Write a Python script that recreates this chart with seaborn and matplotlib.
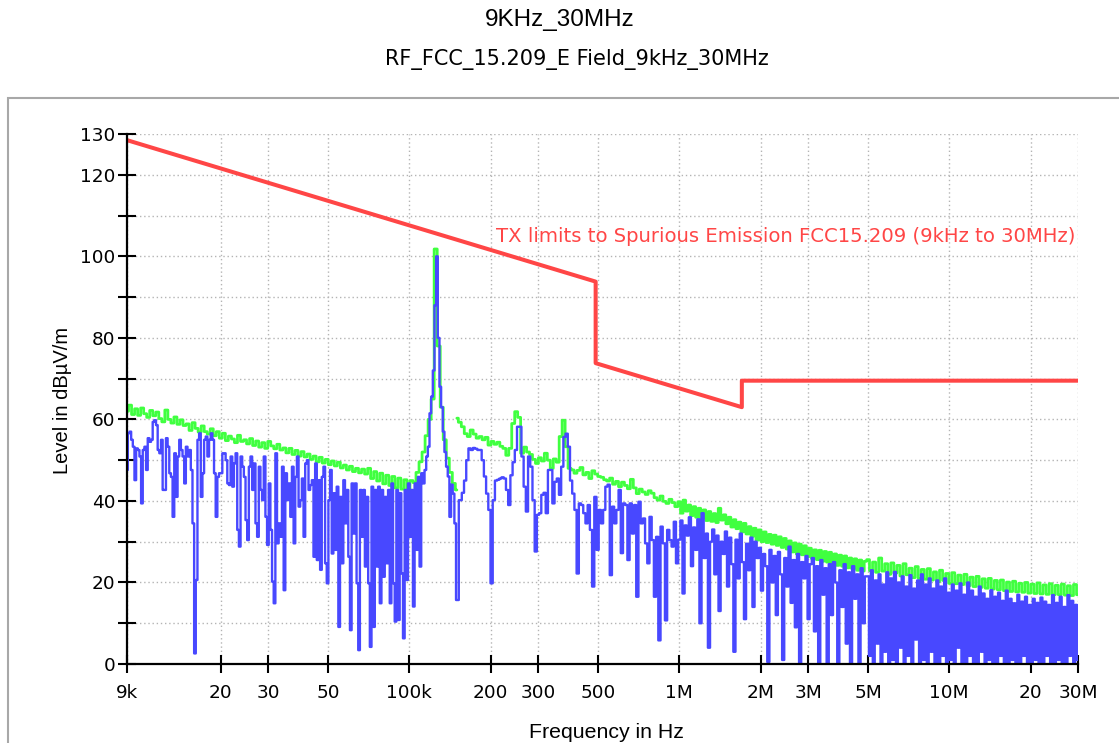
import numpy as np
import pandas as pd
import seaborn as sns
import matplotlib.pyplot as plt
from matplotlib.patches import Rectangle
from matplotlib.ticker import NullLocator

# FCC 15.209 limit, converted to 3 m (dBuV/m)
limit_freq = [9e3, 490e3, 490e3, 1.705e6, 1.705e6, 30e6]
limit_level = [128.5, 93.8, 73.8, 63.0, 69.5, 69.5]

# green trace
green_9k_150k = [
    62.0, 63.5, 61.2, 62.6, 61.0, 62.8, 61.4, 60.5, 62.2, 60.9,
    61.8, 60.2, 59.4, 62.3, 60.0, 59.1, 60.6, 58.8, 59.9, 58.5,
    58.9, 57.3, 59.2, 57.8, 56.9, 58.4, 57.0, 56.4, 57.7, 56.0,
    57.0, 55.4, 56.6, 54.8, 55.9, 55.2, 54.3, 56.1, 54.6, 55.0,
    54.0, 55.3, 53.6, 54.7, 53.2, 54.3, 52.9, 54.6, 53.5, 52.8,
    53.9, 52.5, 53.0, 51.8, 52.9, 51.4, 52.4, 51.0, 52.1, 50.8,
    51.5, 50.2, 51.0, 49.6, 50.7, 49.3, 50.2, 48.9, 49.8, 48.6,
    49.5, 48.1, 48.8, 47.6, 48.5, 47.2, 48.0, 46.9, 47.8, 46.6,
    48.0, 45.5, 47.2, 44.9, 46.8, 44.2, 46.3, 43.8, 46.0, 43.2,
    45.6, 42.9, 45.2, 42.6, 45.0,
    44.5, 47.0, 49.6, 52.0, 56.0, 60.0, 65.0, 101.8, 78.0, 63.0,
    55.0, 50.5, 47.0, 44.3, 42.7,
]
green_150k_1m = [
    60.3, 59.3, 58.2, 56.5, 55.8, 57.4, 56.4, 55.4, 55.8, 55.0,
    55.6, 53.7, 54.6, 53.9, 54.4, 53.4, 52.9, 51.2, 52.9, 59.0,
    61.9, 60.5, 51.7, 53.2, 52.0, 51.4, 50.2, 49.2, 50.6, 49.8,
    51.7, 50.0, 48.0, 50.3, 49.5, 55.8, 59.8, 53.3, 48.0, 47.6,
    46.8, 47.5, 48.2, 46.4, 47.0, 45.5, 47.4, 46.6, 46.0, 45.8,
    45.2, 44.9, 45.6, 44.1, 44.8, 43.5, 44.6, 43.8, 43.0, 45.3,
    43.2, 41.8, 42.9, 42.2, 41.6, 42.5, 41.9, 40.8, 40.2, 41.2,
    39.9, 39.4, 40.4, 39.6, 38.6,
]
green_1m_5m = [
    39.8, 37.0, 40.2, 37.5, 39.0, 36.4, 38.6, 36.0, 38.2, 35.8,
    37.8, 35.2, 37.4, 35.0, 36.9, 34.7, 38.2, 35.3, 36.6, 34.4,
    36.0, 33.6, 35.4, 33.2, 34.8, 32.4, 34.5, 31.9, 33.7, 31.3,
    33.3, 30.4, 32.9, 30.0, 32.4, 29.8, 31.8, 29.4, 31.6, 29.1,
    31.2, 28.6, 30.8, 28.2, 30.2, 27.5, 29.7, 27.0, 29.4, 26.8,
    29.0, 26.3, 28.4, 25.9, 28.0, 25.6, 27.9, 25.2, 27.6, 25.0,
    27.4, 24.6, 27.0, 24.2, 26.7, 24.0, 26.5, 23.6, 26.0, 23.4,
    25.8, 23.0, 25.5, 22.8, 25.2,
]
green_5m_30m = [
    25.6, 22.9, 25.0, 22.5, 26.0, 22.8, 24.6, 22.0, 24.8, 22.3,
    24.2, 21.6, 24.6, 21.9, 23.5, 21.2, 23.9, 21.0, 23.2, 20.8,
    23.4, 20.6, 22.6, 20.2, 23.0, 20.5, 22.2, 19.8, 22.4, 19.7,
    21.8, 19.5, 22.0, 19.2, 21.3, 19.0, 21.5, 18.8, 20.9, 18.6,
    21.0, 18.4, 20.5, 18.2, 20.6, 18.0, 20.1, 17.8, 20.3, 17.7,
    19.8, 17.6, 20.0, 17.4, 19.6, 17.3, 19.9, 17.2, 19.4, 17.1,
    19.7, 17.0, 19.3, 17.0, 19.6, 16.9, 19.2, 16.8, 19.5, 17.0,
]

# blue trace
blue_9k_150k = [
    47.6, 56.6, 57.0, 55.0, 53.3, 45.1, 52.9, 52.5, 50.9, 39.4,
    52.5, 53.3, 47.6, 55.4, 54.5, 55.0, 59.4, 59.8, 58.6, 52.5,
    51.7, 55.0, 42.7, 42.7, 55.4, 53.3, 46.8, 45.9, 36.1, 51.7,
    41.0, 50.9, 55.0, 52.5, 50.9, 44.3, 53.3, 50.9, 52.5, 47.6,
    34.5, 2.6, 20.6, 55.0, 56.6, 41.0, 46.8, 55.0, 55.8, 50.9,
    55.0, 56.6, 55.0, 46.8, 36.1, 45.9, 46.8, 46.8, 51.7, 51.7,
    50.0, 44.3, 43.9, 50.9, 43.5, 49.2, 51.7, 32.9, 28.8, 50.9,
    48.4, 45.9, 35.3, 30.4, 48.4, 50.9, 42.7, 49.2, 34.5, 31.2,
    48.4, 42.7, 40.2, 50.9, 36.1, 29.2, 44.3, 32.9, 20.2, 14.9,
    51.7, 29.6, 34.5, 31.2, 48.4, 18.1, 46.8, 40.2, 44.3, 36.1,
    48.4, 29.6, 45.9, 50.9, 38.6,
    40.2, 45.5, 31.2, 49.2, 50.0, 42.7, 43.9, 45.1, 26.3, 49.2,
    25.5, 45.1, 23.1, 45.9, 48.4, 24.7, 19.8, 40.2, 47.6, 27.1,
    41.9, 28.0, 43.5, 9.1, 41.0, 24.7, 45.1, 34.5, 42.7, 26.3,
    8.3, 44.3, 32.0, 44.3, 19.8, 3.4, 42.7, 31.2, 42.7, 23.9,
    41.0, 19.8, 4.2, 43.5, 9.1, 42.7, 23.9, 43.5, 14.9, 42.7,
    21.4, 41.0, 24.7, 42.7, 14.9, 44.3, 19.8, 10.4, 42.7, 10.8,
    41.9, 22.2, 6.3, 42.7, 20.6, 44.3, 31.2, 42.7, 14.1, 44.3,
    28.0, 45.9, 23.9, 46.8, 44.3, 47.6, 50.9, 53.3, 61.5, 65.6,
    72.0, 88.0, 100.0, 80.0, 68.0, 63.0, 57.0, 52.0, 48.4, 46.0,
    36.1, 44.0, 41.8, 34.5, 15.7,
]
blue_155k_1m = [
    40.2, 42.0, 45.0, 50.0, 52.9, 52.5, 53.0, 52.8, 52.5, 52.5,
    50.0, 46.0, 41.8, 37.8, 19.8, 40.2, 45.0, 45.2, 45.5, 45.8,
    45.5, 42.7, 39.0, 46.3, 49.5, 52.5, 58.2, 58.2, 50.9, 43.5,
    37.4, 50.9, 48.4, 40.2, 27.6, 36.6, 37.0, 41.5, 42.0, 37.0,
    47.6, 47.6, 39.4, 44.7, 45.5, 41.5, 48.4, 55.7, 56.5, 53.3,
    45.0, 41.8, 37.8, 22.2, 39.4, 39.0, 37.0, 34.5, 39.0, 32.9,
    19.0, 41.0, 28.0, 37.8, 34.5, 37.8, 43.5, 44.0, 21.8, 38.6,
    34.5, 37.8, 42.7, 27.2, 39.4, 39.0, 25.5, 39.4, 32.0, 39.0,
    16.5, 39.8, 34.5, 35.7, 29.6, 24.7, 36.1, 30.4, 16.5, 31.2,
    5.8, 33.7, 29.6, 10.7, 32.9, 30.4, 28.8, 34.9, 24.7,
]
blue_1m_5m = [
    30.5, 35.2, 17.3, 34.0, 31.5, 36.0, 24.0, 33.5, 28.0, 35.5,
    10.0, 37.0, 26.0, 32.0, 4.0, 30.0,
    33.0, 22.0, 31.5, 13.0, 30.0, 27.0, 32.5, 19.0, 31.0, 24.5,
    3.0, 30.5, 21.0, 32.0, 25.0, 11.0, 29.5, 23.0, 31.0, 14.0,
    30.0, 26.0,
    28.5, 18.0, 27.0, 24.0, 0.5, 28.0, 20.0, 26.5, 12.0, 27.5,
    22.0, 1.0, 26.0, 19.0, 28.8, 15.0, 25.5, 9.0, 27.0, 0.0,
    25.0, 21.0, 26.5, 11.0, 24.5,
    26.0, 8.0, 24.0, 0.0, 25.5, 17.0, 23.5, 0.0, 24.5, 12.0,
    25.0, 20.0, 0.0, 23.0, 14.0, 24.5, 5.0, 22.5, 0.0, 24.0,
    16.0, 22.0, 0.0, 23.5, 10.0, 21.5,
]
blue_5m_30m = [
    21.5, 2.0, 23.0, 0.0, 20.5, 5.0, 22.0, 0.0, 19.5, 3.0, 22.5, 0.0,
    21.0, 1.0, 22.6, 0.0, 20.0, 4.0, 21.5, 0.0, 19.0, 2.0,
    21.8, 0.0, 18.5, 6.0, 20.5, 0.0, 22.0, 1.0, 19.5, 0.0,
    21.0, 3.0, 18.5, 0.0, 20.5, 0.0, 19.0, 2.0, 21.0, 0.0,
    17.5, 1.0, 19.5, 0.0, 18.0, 4.0, 19.8, 0.0, 17.0, 0.0,
    20.0, 2.0, 18.0, 0.0, 16.5, 0.0, 19.0, 3.0, 17.3, 0.0,
    16.0, 1.0, 18.1, 0.0, 16.5, 0.0, 17.5, 2.0, 15.5, 0.0,
    18.0, 0.0, 16.0, 1.0, 14.9, 0.0, 17.0, 0.0, 15.3, 2.0,
    16.5, 0.0, 14.5, 0.0, 16.0, 1.0, 15.0, 0.0, 16.3, 0.0,
    15.3, 2.0, 14.5, 0.0, 16.9, 0.0, 15.0, 1.0, 16.5, 0.0,
    14.0, 0.0, 16.9, 2.0, 15.5, 0.0, 14.5, 1.0,
]

x_ticks = [9e3, 2e4, 3e4, 5e4, 1e5, 2e5, 3e5, 5e5, 1e6, 2e6, 3e6, 5e6, 1e7, 2e7, 3e7]
x_tick_labels = ['9k', '20', '30', '50', '100k', '200', '300', '500',
                 '1M', '2M', '3M', '5M', '10M', '20', '30M']
y_ticks = list(range(0, 131, 10))
y_tick_labels = ['0', '', '20', '', '40', '', '60', '', '80', '', '100', '', '120', '130']

RED = '#ff4646'
GREEN = '#40ff40'
BLUE = '#4848ff'


def band(lo, hi, values, endpoint=True):
    # sweep points spread evenly on the log axis over one band
    return np.geomspace(lo, hi, len(values), endpoint=endpoint)


green_lo = pd.DataFrame({'freq': band(9e3, 150e3, green_9k_150k), 'level': green_9k_150k})
green_hi = pd.DataFrame({
    'freq': np.concatenate([band(150e3, 1e6, green_150k_1m, False),
                            band(1e6, 5e6, green_1m_5m, False),
                            band(5e6, 30e6, green_5m_30m)]),
    'level': green_150k_1m + green_1m_5m + green_5m_30m,
})
blue = pd.DataFrame({
    'freq': np.concatenate([band(9e3, 150e3, blue_9k_150k),
                            band(155e3, 1e6, blue_155k_1m, False),
                            band(1e6, 5e6, blue_1m_5m, False),
                            band(5e6, 30e6, blue_5m_30m)]),
    'level': blue_9k_150k + blue_155k_1m + blue_1m_5m + blue_5m_30m,
})
limit = pd.DataFrame({'freq': limit_freq, 'level': limit_level})

sns.set_theme(style='white')
plt.rcParams['font.family'] = ['DejaVu Sans']
plt.rcParams['path.simplify'] = False

fig = plt.figure(figsize=(11.19, 7.43), dpi=100)
ax = fig.add_axes([0.1135, 0.1063, 0.8499, 0.7133])
ax.set_xscale('log')

kw = dict(x='freq', y='level', estimator=None, sort=False, ax=ax, legend=False)
trace = dict(drawstyle='steps-mid', snap=False)
sns.lineplot(data=green_lo, color=GREEN, lw=2.0, **trace, **kw)
sns.lineplot(data=green_hi, color=GREEN, lw=2.0, **trace, **kw)
sns.lineplot(data=blue, color=BLUE, lw=1.7, **trace, **kw)
sns.lineplot(data=limit, color=RED, lw=2.9, **kw)

ax.set_xlim(9e3, 30e6)
ax.set_ylim(0, 130)
ax.xaxis.set_minor_locator(NullLocator())
ax.set_xticks(x_ticks)
ax.set_xticklabels(x_tick_labels)
ax.set_yticks(y_ticks)
ax.set_yticklabels(y_tick_labels)
ax.tick_params(axis='both', direction='inout', length=13, width=1.5,
               color='black', labelsize=13.3, labelcolor='black',
               bottom=True, left=True)
ax.tick_params(axis='x', pad=8)
ax.tick_params(axis='y', pad=2)

ax.grid(True, color='#b4b4b4', linestyle=(0, (1, 2)), linewidth=1)
ax.set_axisbelow(True)
for side in ['top', 'right']:
    ax.spines[side].set_visible(False)
for side in ['left', 'bottom']:
    ax.spines[side].set_color('black')
    ax.spines[side].set_linewidth(1.6)

ax.set_xlabel('Frequency in Hz', fontsize=15.3, family='Liberation Sans', color='black')
ax.set_ylabel('Level in dBµV/m', fontsize=14.5, family='Liberation Sans', color='black')
ax.xaxis.set_label_coords(0.5037, -0.112)
ax.yaxis.set_label_coords(-0.058, 0.498)

ax.text(0.9968, 0.8075, 'TX limits to Spurious Emission FCC15.209 (9kHz to 30MHz)',
        transform=ax.transAxes, ha='right', va='center', color=RED, fontsize=14.1)

fig.text(0.5, 1 - 20 / 743, '9KHz_30MHz', ha='center', va='center',
         fontsize=17.5, family='Liberation Sans', color='black')
fig.text(577 / 1119, 1 - 59 / 743, 'RF_FCC_15.209_E Field_9kHz_30MHz', ha='center',
         va='center', fontsize=15, color='black')

# light grey panel frame
fig.add_artist(Rectangle((8 / 1119, -0.05), 1.0, 1 - 98 / 743 + 0.05,
                         transform=fig.transFigure, fill=False,
                         edgecolor='#a8a8a8', lw=1.5))

fig.savefig('out.png', dpi=100)
